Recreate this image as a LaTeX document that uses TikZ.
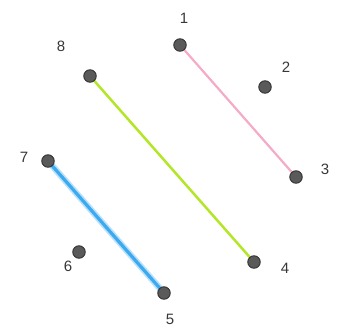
\documentclass[tikz,border=0pt]{standalone}
\usepackage{fontspec}
\setmainfont{Liberation Sans}
\usetikzlibrary{positioning}
\definecolor{dotGray}{RGB}{90,90,90}
\definecolor{dotRim}{RGB}{50,50,50}
\definecolor{edgePink}{RGB}{245,170,200}
\definecolor{edgeLime}{RGB}{180,230,40}
\definecolor{edgeSky}{RGB}{60,170,240}
\definecolor{numGray}{RGB}{55,55,55}

\begin{document}
\begin{tikzpicture}[
    x=1pt, y=-1pt,
    pt/.style={circle, draw=dotRim, fill=dotGray, line width=0.9pt,
               minimum size=12.5pt, inner sep=0pt},
    num/.style={font=\fontsize{15}{15}\selectfont, text=numGray},
    pinkline/.style={edgePink, line width=2.2pt},
    limeline/.style={edgeLime, line width=2.5pt},
    skyline/.style={edgeSky, line width=3.2pt}
]
\useasboundingbox (0,0) rectangle (342,326);

% ---- vertices ----
\foreach \n/\x/\y in {1/180/45, 2/265/87, 3/296/177, 4/254/262,
                      5/164/293, 6/79/252, 7/48/161, 8/90/76}{%
  \coordinate (c\n) at (\x,\y);
}

% ---- edges ----
\draw[pinkline] (c1) -- (c3);
\draw[limeline] (c8) -- (c4);
\draw[edgeSky!35, line width=6.5pt] (c7) -- (c5);
\draw[skyline] (c7) -- (c5);

\foreach \n in {1,...,8}{%
  \node[pt] (v\n) at (c\n) {};
}

% ---- labels ----
\node[num] (l1) at (184,18) {1};
\node[num] (l2) at (286,67) {2};
\node[num] (l3) at (325,169) {3};
\node[num] (l4) at (285,268) {4};
\node[num] (l5) at (170,319) {5};
\node[num] (l6) at (68,266) {6};
\node[num] (l7) at (24,157) {7};
\node[num] (l8) at (61,46) {8};
\end{tikzpicture}
\end{document}
